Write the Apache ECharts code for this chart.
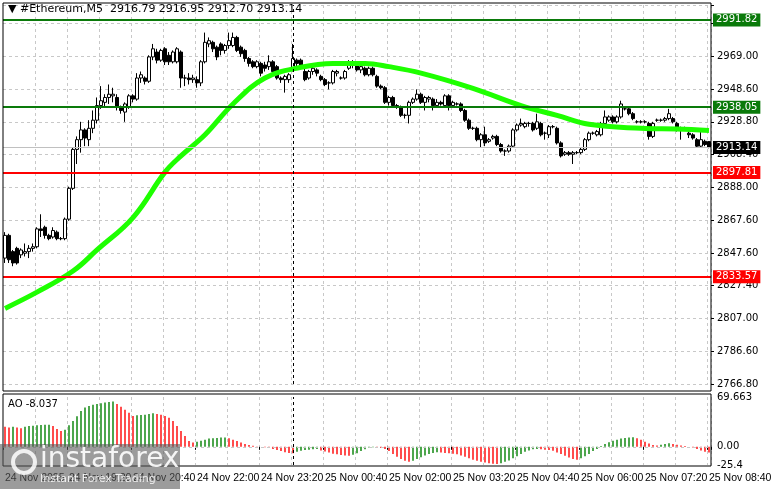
<!DOCTYPE html>
<html>
<head>
<meta charset="utf-8">
<script src="https://cdn.jsdelivr.net/npm/echarts@6/dist/echarts.min.js"></script>
<style>
  html, body { margin: 0; padding: 0; background: #fff; }
  #chart { width: 781px; height: 489px; }
</style>
</head>
<body>
<div id="chart"></div>
<script>
// candles [open, close, low, high], 5-minute bars 24 Nov 18:00 .. 25 Nov 08:40
const candles = [
  [2845,2859,2842,2861],[2859,2844,2842,2860],[2849,2842,2840,2850],[2851,2842,2841,2852],[2847,2850,2845,2851],
  [2848,2849,2846,2854],[2849,2851,2845,2853],[2851,2852,2849,2854],[2852,2863,2851,2864],[2863,2862,2858,2872],
  [2864,2859,2857,2865],[2859,2857,2856,2860],[2858,2862,2857,2864],[2861,2857,2856,2862],[2857,2857,2856,2858],
  [2857,2869,2856,2870],[2869,2888,2868,2889],[2888,2912,2887,2913],[2912,2918,2903,2920],[2918,2924,2910,2929],
  [2924,2919,2914,2925],[2918,2925,2914,2930],[2925,2930,2922,2936],[2930,2939,2928,2944],[2939,2942,2937,2951],
  [2941,2944,2938,2946],[2944,2946,2940,2952],[2945,2946,2941,2950],[2944,2938,2936,2946],[2938,2936,2934,2939],
  [2935,2940,2929,2941],[2938,2945,2937,2946],[2945,2943,2941,2946],[2943,2956,2942,2959],[2956,2958,2953,2960],
  [2956,2954,2952,2957],[2954,2969,2953,2970],[2969,2974,2967,2977],[2972,2967,2965,2974],[2967,2973,2966,2974],
  [2974,2966,2964,2975],[2970,2966,2964,2972],[2966,2972,2965,2973],[2966,2974,2965,2975],[2972,2956,2950,2973],
  [2956,2956,2951,2958],[2956,2955,2952,2959],[2955,2956,2953,2958],[2955,2953,2950,2957],[2953,2966,2951,2967],
  [2966,2978,2965,2984],[2977,2979,2975,2981],[2978,2974,2972,2979],[2975,2969,2967,2976],[2977,2973,2970,2978],
  [2973,2976,2971,2977],[2976,2979,2974,2984],[2976,2981,2975,2984],[2981,2973,2972,2982],[2975,2971,2969,2976],
  [2973,2968,2966,2974],[2968,2965,2963,2969],[2966,2963,2962,2967],[2963,2966,2962,2967],[2965,2959,2957,2966],
  [2964,2962,2960,2966],[2963,2966,2961,2970],[2966,2960,2958,2967],[2963,2956,2955,2964],[2956,2955,2953,2957],
  [2955,2957,2947,2958],[2955,2958,2953,2959],[2962,2968,2960,2977],[2967,2965,2963,2968],[2967,2964,2962,2968],
  [2960,2955,2954,2962],[2956,2960,2955,2961],[2960,2962,2958,2963],[2961,2959,2957,2962],[2957,2955,2954,2958],
  [2955,2952,2951,2956],[2953,2953,2949,2954],[2953,2960,2952,2961],[2959,2960,2957,2961],[2956,2956,2955,2957],
  [2956,2960,2955,2961],[2962,2966,2961,2967],[2966,2964,2962,2967],[2964,2961,2960,2965],[2961,2963,2959,2964],
  [2962,2958,2957,2963],[2958,2962,2957,2963],[2962,2958,2957,2963],[2957,2951,2950,2958],[2951,2950,2949,2952],
  [2950,2941,2940,2951],[2941,2944,2939,2945],[2944,2939,2938,2945],[2939,2938,2937,2940],[2938,2933,2932,2939],
  [2933,2933,2931,2934],[2933,2941,2928,2942],[2941,2943,2940,2944],[2943,2946,2942,2949],[2946,2941,2940,2947],
  [2941,2944,2936,2945],[2943,2944,2941,2945],[2943,2939,2936,2944],[2939,2941,2938,2943],[2941,2940,2939,2942],
  [2939,2945,2938,2946],[2945,2939,2936,2946],[2939,2941,2938,2942],[2940,2940,2939,2941],[2940,2936,2935,2941],
  [2936,2930,2929,2937],[2930,2925,2924,2931],[2925,2925,2924,2926],[2925,2918,2917,2926],[2918,2921,2913,2922],
  [2921,2916,2914,2926],[2917,2918,2916,2919],[2919,2920,2918,2921],[2920,2915,2914,2921],[2915,2911,2910,2916],
  [2911,2911,2908,2912],[2911,2914,2910,2915],[2914,2924,2913,2925],[2924,2927,2923,2928],[2927,2928,2926,2931],
  [2926,2928,2925,2929],[2928,2928,2926,2929],[2928,2924,2923,2929],[2925,2929,2924,2934],[2928,2921,2920,2929],
  [2922,2922,2918,2923],[2921,2926,2919,2927],[2926,2926,2925,2927],[2925,2916,2915,2926],[2916,2908,2907,2917],
  [2909,2910,2908,2911],[2910,2909,2908,2911],[2909,2910,2903,2911],[2910,2910,2909,2911],[2910,2912,2909,2913],
  [2912,2918,2911,2919],[2918,2922,2917,2923],[2922,2922,2921,2923],[2921,2923,2920,2924],[2921,2928,2920,2929],
  [2928,2932,2927,2936],[2930,2932,2929,2933],[2932,2929,2928,2933],[2929,2932,2928,2933],[2932,2940,2931,2942],
  [2937,2937,2936,2938],[2937,2934,2933,2938],[2934,2931,2930,2935],[2929,2929,2928,2930],[2929,2929,2928,2930],
  [2929,2929,2928,2930],[2928,2920,2918,2929],[2920,2928,2919,2929],[2930,2930,2929,2931],[2930,2930,2929,2931],
  [2930,2931,2929,2932],[2931,2934,2930,2937],[2931,2929,2928,2932],[2928,2924,2923,2929],[2925,2925,2918,2926],
  [2925,2925,2924,2926],[2922,2921,2919,2923],[2921,2919,2918,2922],[2918,2914,2913,2919],[2914,2918,2913,2923],
  [2917,2915,2914,2918],[2916.79,2913.14,2912.70,2916.95]
];

// moving average, read at some bars: [bar index, value]
const maPoints = [
  [0,2814],[8,2824],[17,2837],[23,2850],[32,2870],[40,2898],[44,2908],[50,2921],[57,2940],[65,2956],
  [74,2962.6],[82,2965],[90,2965],[96,2963],[104,2959],[117,2949.6],[129,2939],[138,2933],[146,2927.5],
  [159,2925],[168,2924.5],[176,2923.7]
];

// Awesome Oscillator
const aoValues = [
  28,27,28,27,26,28,29,29.5,30,30.5,
  30.8,31,29,25,22,24,30,36,42.6,50,
  55,57,59,60,61,62,62.5,63.5,60,56,
  52,47.5,43,44,44.5,45,46,46.8,46,45,
  43,40.7,36,29,22,15,8,6,7,8.5,
  10,11.5,12,12.5,13,13.2,12,10,8,6,
  4,2.5,1.5,0.5,0.2,-0.5,-1.5,-3,-4.5,-6,
  -7.5,-8.5,-9,-7,-5.5,-4.5,-4,-3.5,-3,-5,
  -6.5,-8,-9.5,-10.5,-11.5,-12,-12.5,-11,-9,-6,
  -3.5,-1,-0.5,-0.8,-1.5,-3,-6,-10,-14,-17,
  -19.5,-21,-19.5,-17,-14.5,-12,-10,-8.5,-7.5,-8,
  -8.5,-9,-9.5,-10.5,-12,-14,-16,-18,-19.5,-21,
  -22,-23,-23.5,-24,-23,-21,-19,-16,-13,-10,
  -7,-5,-3.5,-3,-3.5,-4,-4.5,-5.5,-8,-10,
  -12.5,-15,-17,-18,-16,-13,-10,-6,-3,1,
  4,6.5,8.5,10,11.5,12.5,13,13.5,12,10,
  7,4.5,2.5,2,3,4,5,4,3,2,
  1,0,-1,-3,-5,-7,-8.037
];

const timeLabels = ['24 Nov 2025','24 Nov 19:20','24 Nov 20:40','24 Nov 22:00','24 Nov 23:20','25 Nov 00:40',
  '25 Nov 02:00','25 Nov 03:20','25 Nov 04:40','25 Nov 06:00','25 Nov 07:20','25 Nov 08:40'];
const priceTicks = ['2766.80','2786.60','2807.00','2827.40','2847.60','2867.60','2888.00','2908.40',
  '2928.80','2948.60','2969.00','2989.40'];
const greenLevels = [2991.82, 2938.05];
const redLevels = [2897.81, 2833.57];
const lastPrice = 2913.14;

const FONT = 'DejaVu Sans';
const cats = candles.map((c, i) => i);

const levelLine = (v, color, bg) => ({
  yAxis: v,
  lineStyle: { color: color, width: 2, type: 'solid' },
  label: {
    position: 'end', distance: 2, formatter: v.toFixed(2), color: '#fff',
    backgroundColor: bg, padding: [2, 3, 1, 3], fontFamily: FONT, fontSize: 10
  }
});

const chart = echarts.init(document.getElementById('chart'));
chart.setOption({
  animation: false,
  backgroundColor: '#fff',
  grid: [
    { left: 3, top: 5, width: 708, height: 379 },
    { left: 3, top: 397, width: 708, height: 68 }
  ],
  xAxis: [
    {
      type: 'category', gridIndex: 0, data: cats, boundaryGap: true,
      axisLine: { show: false }, axisTick: { show: false }, axisLabel: { show: false },
      splitLine: { show: true, interval: (i) => i % 8 === 0 && i !== 0, lineStyle: { color: '#c8c8c8', type: [3, 3] } }
    },
    {
      type: 'category', gridIndex: 1, data: cats, boundaryGap: true,
      axisLine: { show: false },
      axisTick: { show: true, interval: (i) => i % 16 === 0, length: 3, lineStyle: { color: '#000' } },
      axisLabel: {
        interval: (i) => i % 16 === 0, align: 'left', margin: 8, color: '#000',
        showMaxLabel: true, hideOverlap: false,
        fontFamily: 'Liberation Sans', fontSize: 10.5, formatter: (v, i) => timeLabels[i / 16] || ''
      },
      splitLine: { show: true, interval: (i) => i % 8 === 0 && i !== 0, lineStyle: { color: '#c8c8c8', type: [3, 3] } }
    }
  ],
  yAxis: [
    {
      type: 'value', gridIndex: 0, position: 'right', min: 2767.4, max: 3001, interval: 20.2,
      axisLine: { show: false }, axisTick: { show: true, length: 3, lineStyle: { color: '#000' } },
      axisLabel: { color: '#000', fontFamily: FONT, fontSize: 10, margin: 6, formatter: (v, i) => priceTicks[i] || '' },
      splitLine: { show: true, lineStyle: { color: '#c8c8c8', type: [3, 3] } }
    },
    {
      type: 'value', gridIndex: 1, position: 'right', min: -25.4, max: 69.663,
      axisLine: { show: false }, axisTick: { show: false },
      axisLabel: {
        color: '#000', fontFamily: FONT, fontSize: 10, margin: 6,
        customValues: [-25.4, 0, 69.663],
        formatter: (v) => v === 0 ? '0.00' : (v > 0 ? '69.663' : '-25.4')
      },
      splitLine: { show: false }
    }
  ],
  series: [
    {
      type: 'candlestick', xAxisIndex: 0, yAxisIndex: 0, barWidth: 3,
      data: candles,
      itemStyle: { color: '#fff', color0: '#000', borderColor: '#000', borderColor0: '#000', borderWidth: 1 },
      markLine: {
        symbol: 'none', silent: true, animation: false,
        data: [
          levelLine(greenLevels[0], '#0a7a0a', '#0a7a0a'),
          levelLine(greenLevels[1], '#0a7a0a', '#0a7a0a'),
          levelLine(redLevels[0], '#ff0000', '#ff0000'),
          levelLine(redLevels[1], '#ff0000', '#ff0000'),
          {
            yAxis: lastPrice, lineStyle: { color: '#c0c0c0', width: 1, type: 'solid' },
            label: { position: 'end', distance: 2, formatter: lastPrice.toFixed(2), color: '#fff',
              backgroundColor: '#000', padding: [2, 3, 1, 3], fontFamily: FONT, fontSize: 10 }
          },
          { xAxis: 72, lineStyle: { color: '#000', width: 1, type: [3, 3] }, label: { show: false } }
        ]
      }
    },
    {
      type: 'line', xAxisIndex: 0, yAxisIndex: 0, data: maPoints, smooth: 0.4,
      showSymbol: false, lineStyle: { color: '#1eff00', width: 5 }, z: 3
    },
    {
      type: 'bar', xAxisIndex: 1, yAxisIndex: 1, barWidth: 1.4,
      data: aoValues.map((v, i) => ({
        value: v,
        itemStyle: { color: i > 0 && v > aoValues[i - 1] ? '#008000' : '#ff0000' }
      })),
      markLine: {
        symbol: 'none', silent: true, label: { show: false },
        data: [
          { yAxis: 0, lineStyle: { color: '#c8c8c8', type: [3, 3], width: 1 } },
          { xAxis: 72, lineStyle: { color: '#000', width: 1, type: [3, 3] } }
        ]
      }
    }
  ],
  graphic: [
    { type: 'rect', shape: { x: 3, y: 3, width: 708, height: 388 }, style: { fill: 'none', stroke: '#000', lineWidth: 1 }, silent: true, z: 10 },
    { type: 'rect', shape: { x: 3, y: 394, width: 708, height: 72 }, style: { fill: 'none', stroke: '#000', lineWidth: 1 }, silent: true, z: 10 },
    { type: 'text', left: 8, top: 4, style: { text: '\u25BC #Ethereum,M5  2916.79 2916.95 2912.70 2913.14', fill: '#000', font: '11px "DejaVu Sans"' }, z: 11 },
    { type: 'text', left: 8, top: 399, style: { text: 'AO -8.037', fill: '#000', font: '10px "DejaVu Sans"' }, z: 11 },
    { type: 'rect', shape: { x: 0, y: 444, width: 180, height: 45 }, style: { fill: 'rgba(90,90,90,0.6)' }, z: 20 },
    { type: 'circle', shape: { cx: 24, cy: 462, r: 11 }, style: { fill: 'none', stroke: 'rgba(255,255,255,0.85)', lineWidth: 4 }, z: 21 },
    { type: 'text', left: 40, top: 446, style: { text: 'instaforex', fill: 'rgba(255,255,255,0.9)', font: '28px "DejaVu Sans"' }, z: 21 },
    { type: 'text', left: 40, top: 474, style: { text: 'Instant Forex Trading', fill: 'rgba(255,255,255,0.85)', font: '11px "DejaVu Sans"' }, z: 21 }
  ]
});
</script>
</body>
</html>
